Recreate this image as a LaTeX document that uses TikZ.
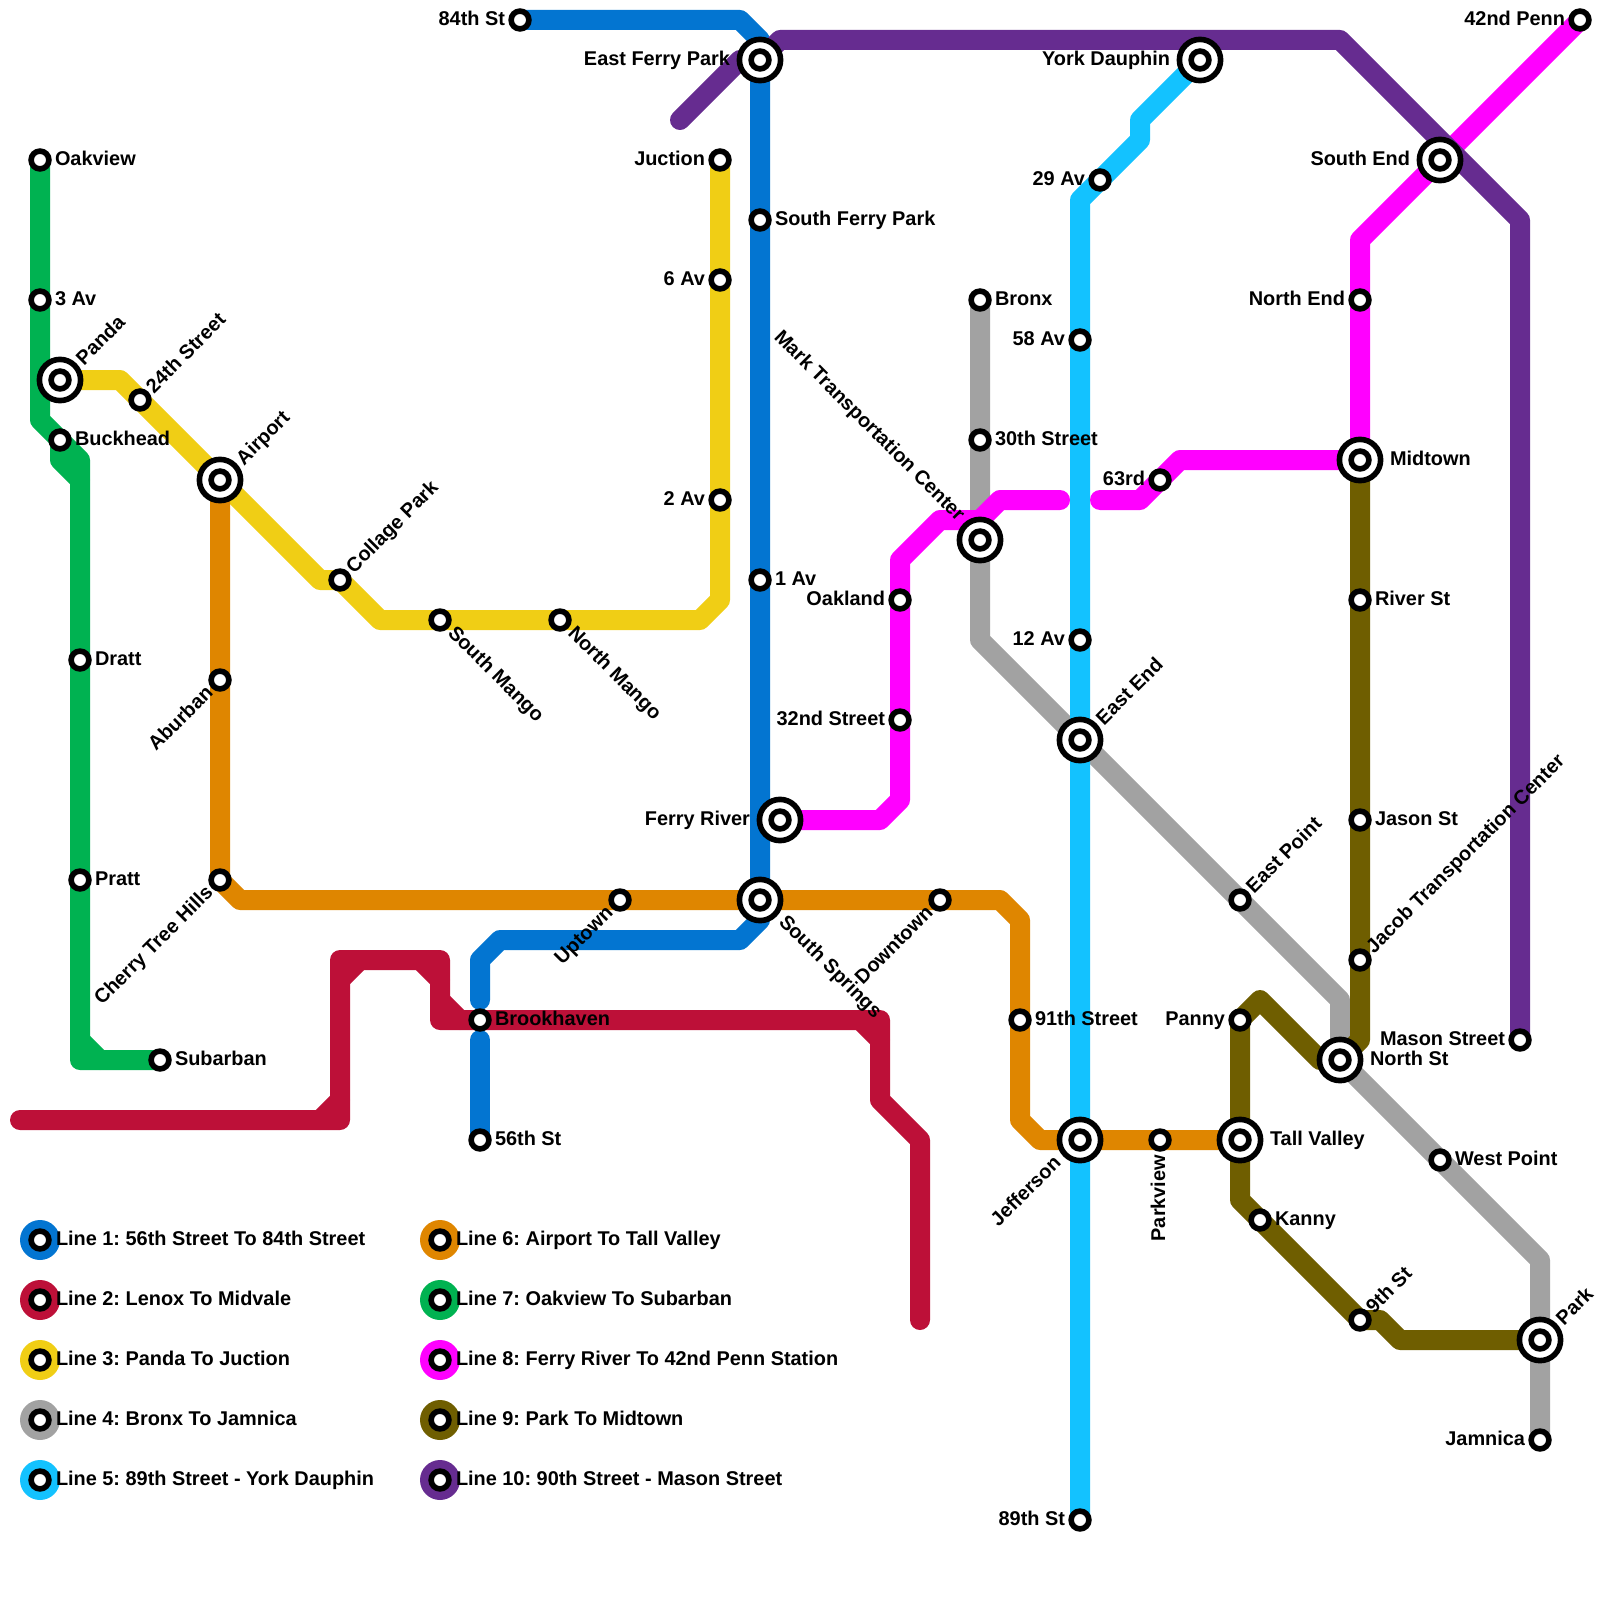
\documentclass[tikz,border=0pt]{standalone}
\usepackage{fontspec}
\setmainfont{Liberation Sans}
\usetikzlibrary{backgrounds}
\definecolor{cA}{HTML}{0375D1}
\definecolor{cB}{HTML}{BD1038}
\definecolor{cC}{HTML}{F0CE15}
\definecolor{cD}{HTML}{A2A2A2}
\definecolor{cE}{HTML}{13C2FF}
\definecolor{cF}{HTML}{DF8600}
\definecolor{cG}{HTML}{00B251}
\definecolor{cH}{HTML}{FF00FF}
\definecolor{cI}{HTML}{6F5E00}
\definecolor{cJ}{HTML}{662C90}
\tikzset{
  metro/.style={line width=20pt,line cap=round,line join=round},
  stn/.style={circle,draw=black,fill=white,line width=5.6pt,inner sep=0pt,minimum size=17.8pt},
  hubring/.style={circle,draw=black,fill=white,line width=5.6pt,inner sep=0pt,minimum size=41.2pt},
  txt/.style={inner sep=0pt,outer sep=0pt,font=\fontsize{19.9}{20}\selectfont\bfseries\frenchspacing,text=black},
  rgt/.style={txt,xshift=15pt,yshift=-5.2pt,anchor=base west},
  rgtb/.style={txt,xshift=30pt,yshift=-5.2pt,anchor=base west},
  lft/.style={txt,xshift=-15pt,yshift=-5.2pt,anchor=base east},
  lftb/.style={txt,xshift=-30pt,yshift=-5.2pt,anchor=base east},
  neU/.style={txt,xshift=14pt,yshift=6pt,rotate=45,anchor=base west},
  neB/.style={txt,xshift=24pt,yshift=14pt,rotate=45,anchor=base west},
  seD/.style={txt,xshift=7pt,yshift=-14pt,rotate=-45,anchor=base west},
  seB/.style={txt,xshift=18pt,yshift=-23pt,rotate=-45,anchor=base west},
  swD/.style={txt,xshift=-6pt,yshift=-14pt,rotate=45,anchor=base east},
  swB/.style={txt,xshift=-18pt,yshift=-24pt,rotate=45,anchor=base east},
  nwB/.style={txt,xshift=-23pt,yshift=18pt,rotate=-45,anchor=base east},
  upw/.style={txt,xshift=5pt,yshift=-15pt,rotate=90,anchor=base east},
  key/.style={circle,inner sep=0pt,minimum size=40pt},
  keytxt/.style={txt,xshift=16pt,yshift=-5.2pt,anchor=base west},
}
\newcommand{\St}[2]{\node[stn] (#1) at (#2) {};}
\newcommand{\Hb}[2]{\node[hubring] (#1) at (#2) {}; \node[stn] (#1-c) at (#2) {};}
\newcommand{\Lb}[3]{\node[#1] (#2-l) at (#2.center) {#3};}
\newcommand{\Key}[4]{\node[key,fill=#2] (#1) at (#3) {}; \node[stn] (#1-c) at (#3) {}; \node[keytxt] (#1-l) at (#1.center) {#4};}
\begin{document}
\begin{tikzpicture}[x=1pt,y=-1pt]
\useasboundingbox (0,0) rectangle (1600,1600);
% stations
\St{oakview}{40,160} \St{threeav}{40,300} \St{buckhead}{60,440} \St{dratt}{80,660} \St{pratt}{80,880} \St{subarban}{160,1060}
\Hb{panda}{60,380} \St{tfs}{140,400} \Hb{airport}{220,480} \St{collage}{340,580} \St{smango}{440,620} \St{nmango}{560,620}
\St{twoav}{720,500} \St{sixav}{720,280} \St{juction}{720,160}
\St{aburban}{220,680} \St{cherry}{220,880} \St{uptown}{620,900} \Hb{ssprings}{760,900} \St{downtown}{940,900}
\St{ninetyone}{1020,1020} \Hb{jefferson}{1080,1140} \St{parkview}{1160,1140} \Hb{tall}{1240,1140}
\St{eightyfour}{520,20} \Hb{eferry}{760,60} \St{sferry}{760,220} \St{oneav}{760,580} \Hb{fr}{780,820}
\St{brook}{480,1020} \St{fiftysix}{480,1140}
\St{oakland}{900,600} \St{thirtytwo}{900,720} \Hb{mark}{980,540} \St{bronx}{980,300} \St{thirtieth}{980,440}
\St{fiftyeight}{1080,340} \St{twelve}{1080,640} \Hb{eastend}{1080,740} \St{eightynine}{1080,1520} \St{twentynine}{1100,180} \Hb{york}{1200,60}
\St{sixtythree}{1160,480} \Hb{midtown}{1360,460} \St{nend}{1360,300} \Hb{send}{1440,160} \St{penn}{1580,20}
\St{river}{1360,600} \St{jason}{1360,820} \St{jacob}{1360,960} \Hb{north}{1340,1060} \St{mason}{1520,1040}
\St{epoint}{1240,900} \St{panny}{1240,1020} \St{kanny}{1260,1220} \St{wpoint}{1440,1160} \St{ninth}{1360,1320} \Hb{park}{1540,1340} \St{jamnica}{1540,1440}
% free line ends
\coordinate (lenox) at (20,1120);
\coordinate (midvale) at (920,1320);
\coordinate (ninety) at (680,120);
\coordinate (gapAn) at (480,1000);
\coordinate (gapAs) at (480,1040);
\coordinate (gapHw) at (1060,500);
\coordinate (gapHe) at (1100,500);
% lines
\begin{scope}[on background layer]
\draw[metro,cA] (eightyfour.center) -- (740,20) -- (760,40) -- (eferry.center) -- (sferry.center) -- (oneav.center) -- (ssprings.center) -- (760,920) -- (740,940) -- (500,940) -- (480,960) -- (gapAn);
\draw[metro,cA] (gapAs) -- (fiftysix.center);
\draw[metro,cB] (lenox) -- (340,1120) -- (340,960) -- (440,960) -- (440,1020) -- (880,1020) -- (880,1100) -- (920,1140) -- (midvale);
\draw[metro,cB] (320,1120) -- (340,1100) (340,980) -- (360,960) (420,960) -- (440,980) (440,1000) -- (460,1020) (860,1020) -- (880,1040);
\draw[metro,cC] (panda.center) -- (120,380) -- (airport.center) -- (320,580) -- (collage.center) -- (380,620) -- (700,620) -- (720,600) -- (juction.center);
\draw[metro,cD] (bronx.center) -- (980,640) -- (eastend.center) -- (epoint.center) -- (1340,1000) -- (north.center) -- (wpoint.center) -- (1540,1260) -- (jamnica.center);
\draw[metro,cE] (eightynine.center) -- (1080,200) -- (twentynine.center) -- (1140,140) -- (1140,120) -- (york.center);
\draw[metro,cF] (airport.center) -- (cherry.center) -- (240,900) -- (1000,900) -- (1020,920) -- (1020,1120) -- (1040,1140) -- (tall.center);
\draw[metro,cG] (oakview.center) -- (40,420) -- (80,460) -- (80,1060) -- (subarban.center);
\draw[metro,cG] (buckhead.center) -- (60,460) -- (80,480) (80,1040) -- (100,1060);
\draw[metro,cH] (fr.center) -- (880,820) -- (900,800) -- (900,560) -- (940,520) -- (980,520) -- (1000,500) -- (gapHw);
\draw[metro,cH] (gapHe) -- (1140,500) -- (sixtythree.center) -- (1180,460) -- (midtown.center) -- (1360,240) -- (send.center) -- (penn.center);
\draw[metro,cI] (park.center) -- (1400,1340) -- (1380,1320) -- (ninth.center) -- (kanny.center) -- (1240,1200) -- (panny.center) -- (1260,1000) -- (1320,1060) -- (north.center) -- (1360,1040) -- (midtown.center);
\draw[metro,cJ] (ninety) -- (740,60) -- (eferry.center) -- (780,40) -- (1340,40) -- (1520,220) -- (mason.center);
\end{scope}
% labels
\Lb{rgt}{oakview}{Oakview} \Lb{rgt}{threeav}{3 Av} \Lb{rgt}{buckhead}{Buckhead} \Lb{rgt}{dratt}{Dratt} \Lb{rgt}{pratt}{Pratt} \Lb{rgt}{subarban}{Subarban}
\Lb{neB}{panda}{Panda} \Lb{neU}{tfs}{24th Street} \Lb{neB}{airport}{Airport} \Lb{neU}{collage}{Collage Park}
\Lb{seD}{smango}{South Mango} \Lb{seD}{nmango}{North Mango}
\Lb{lft}{twoav}{2 Av} \Lb{lft}{sixav}{6 Av} \Lb{lft}{juction}{Juction}
\Lb{swD}{aburban}{Aburban} \Lb{swD}{cherry}{Cherry Tree Hills} \Lb{swD}{uptown}{Uptown} \Lb{seB}{ssprings}{South Springs} \Lb{swD}{downtown}{Downtown}
\Lb{rgt}{ninetyone}{91th Street} \Lb{swB}{jefferson}{Jefferson} \Lb{upw}{parkview}{Parkview} \Lb{rgtb}{tall}{Tall Valley}
\Lb{lft}{eightyfour}{84th St} \Lb{lftb}{eferry}{East Ferry Park} \Lb{rgt}{sferry}{South Ferry Park} \Lb{rgt}{oneav}{1 Av} \Lb{lftb}{fr}{Ferry River}
\Lb{rgt}{brook}{Brookhaven} \Lb{rgt}{fiftysix}{56th St}
\Lb{lft}{oakland}{Oakland} \Lb{lft}{thirtytwo}{32nd Street} \Lb{nwB}{mark}{Mark Transportation Center} \Lb{rgt}{bronx}{Bronx} \Lb{rgt}{thirtieth}{30th Street}
\Lb{lft}{fiftyeight}{58 Av} \Lb{lft}{twelve}{12 Av} \Lb{neB}{eastend}{East End} \Lb{lft}{eightynine}{89th St} \Lb{lft}{twentynine}{29 Av} \Lb{lftb}{york}{York Dauphin}
\Lb{lft}{sixtythree}{63rd} \Lb{rgtb}{midtown}{Midtown} \Lb{lft}{nend}{North End} \Lb{lftb}{send}{South End} \Lb{lft}{penn}{42nd Penn}
\Lb{rgt}{river}{River St} \Lb{rgt}{jason}{Jason St} \Lb{neU}{jacob}{Jacob Transportation Center} \Lb{rgtb}{north}{North St} \Lb{lft}{mason}{Mason Street}
\Lb{neU}{epoint}{East Point} \Lb{lft}{panny}{Panny} \Lb{rgt}{kanny}{Kanny} \Lb{rgt}{wpoint}{West Point} \Lb{neU}{ninth}{9th St} \Lb{neB}{park}{Park} \Lb{lft}{jamnica}{Jamnica}
% legend
\Key{ka}{cA}{40,1240}{Line 1: 56th Street To 84th Street}
\Key{kb}{cB}{40,1300}{Line 2: Lenox To Midvale}
\Key{kc}{cC}{40,1360}{Line 3: Panda To Juction}
\Key{kd}{cD}{40,1420}{Line 4: Bronx To Jamnica}
\Key{ke}{cE}{40,1480}{Line 5: 89th Street - York Dauphin}
\Key{kf}{cF}{440,1240}{Line 6: Airport To Tall Valley}
\Key{kg}{cG}{440,1300}{Line 7: Oakview To Subarban}
\Key{kh}{cH}{440,1360}{Line 8: Ferry River To 42nd Penn Station}
\Key{ki}{cI}{440,1420}{Line 9: Park To Midtown}
\Key{kj}{cJ}{440,1480}{Line 10: 90th Street - Mason Street}
\end{tikzpicture}
\end{document}
